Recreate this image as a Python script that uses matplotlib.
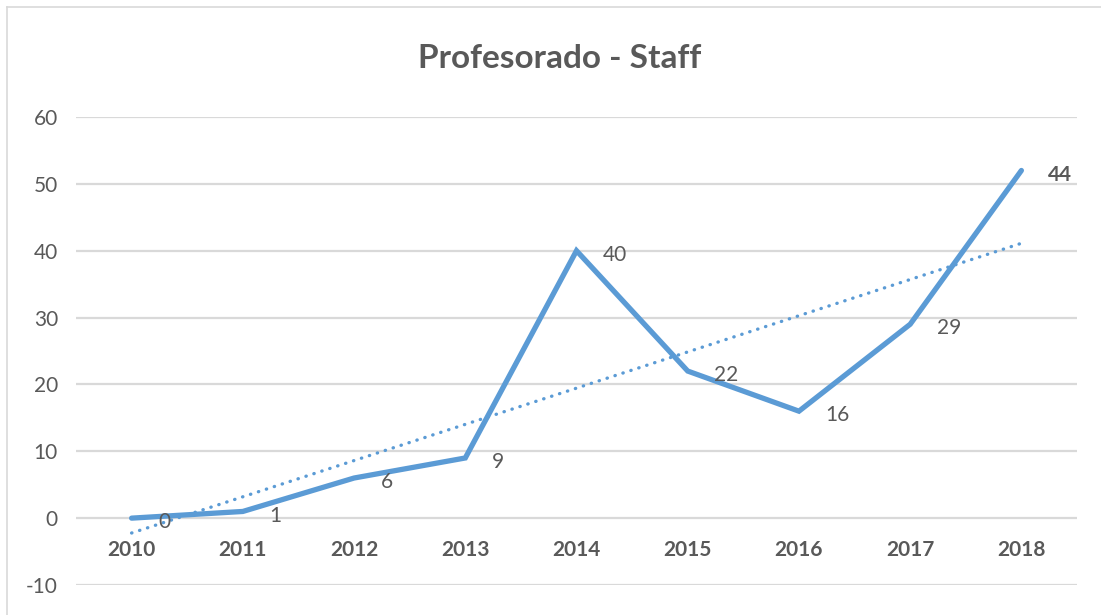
import matplotlib
matplotlib.use("Agg")
import matplotlib.pyplot as plt
from matplotlib.lines import Line2D
import numpy as np

years = ["2010", "2011", "2012", "2013", "2014", "2015", "2016", "2017", "2018"]
values = [0, 1, 6, 9, 40, 22, 16, 29, 52]
labels = ["0", "1", "6", "9", "40", "22", "16", "29", "44"]
yticks = [-10, 0, 10, 20, 30, 40, 50, 60]

plt.rcParams['font.family'] = ['Lato', 'DejaVu Sans']
gray = '#595959'
blue = '#5B9BD5'

fig = plt.figure(figsize=(11.01, 6.15), dpi=100)
ax = fig.add_axes([76/1101, 1-585/615, (1077-76)/1101, (585-117)/615])

x = np.arange(len(years))
ax.plot(x, values, color=blue, lw=3.8, solid_capstyle='round', solid_joinstyle='miter', zorder=3)

# linear trendline fitted to the series
coef = np.polyfit(x, values, 1)
ax.plot(x, np.polyval(coef, x), color=blue, lw=2.4, linestyle=(0, (0.1, 2.4)),
        dash_capstyle='round', zorder=2)

for xi, v, lab in zip(x, values, labels):
    ax.annotate(lab, (xi, v), xytext=(19, -3), textcoords='offset points',
                ha='left', va='center', fontsize=15, color=gray,
                fontweight='bold' if lab == "44" else 'normal', zorder=4)

ax.set_xlim(-0.5, len(years) - 0.5)
ax.set_ylim(-10, 60)
ax.set_yticks(yticks)
ax.set_yticklabels([str(t) for t in yticks], fontsize=15, color=gray)
ax.yaxis.grid(True, color='#D9D9D9', lw=1.6)
ax.set_axisbelow(True)
ax.tick_params(axis='y', length=0, pad=13)
ax.set_xticks([])
for s in ax.spines.values():
    s.set_visible(False)

# category labels sit just under the zero line
for xi, yr in zip(x, years):
    ax.annotate(yr, (xi, 0), xytext=(0, -23), textcoords='offset points',
                ha='center', va='center', fontsize=15, color=gray, fontweight='bold')

fig.text(560/1101, 1-59/615, "Profesorado - Staff", ha='center', va='center',
         fontsize=24, fontweight='bold', color=gray)

# chart border (top and left visible)
fig.add_artist(Line2D([7/1101, 7/1101], [0, 1-7/615], transform=fig.transFigure,
                      color='#D9D9D9', lw=1.2))
fig.add_artist(Line2D([7/1101, 1], [1-7/615, 1-7/615], transform=fig.transFigure,
                      color='#D9D9D9', lw=1.2))

fig.savefig("out.png", dpi=100)
